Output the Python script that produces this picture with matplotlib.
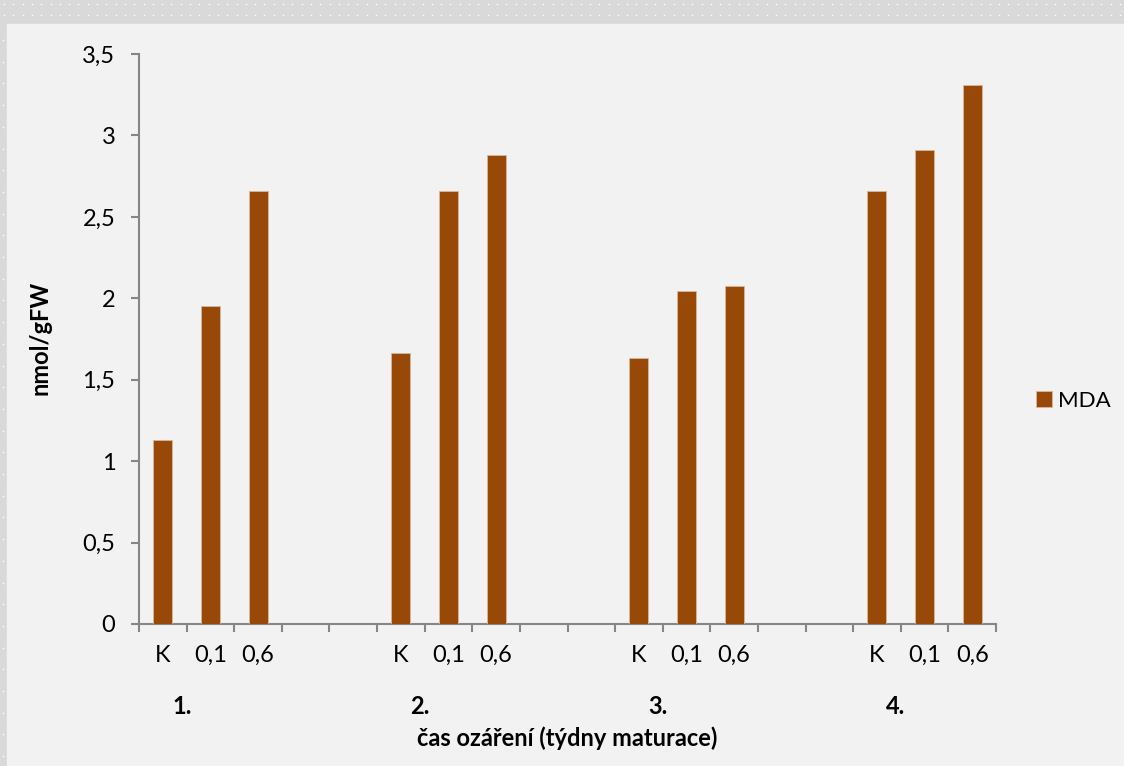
import numpy as np
import matplotlib.pyplot as plt
from matplotlib.ticker import FuncFormatter, FixedLocator

# data
groups = ["1.", "2.", "3.", "4."]
doses = ["K", "0,1", "0,6"]
mda_g1 = [1.13, 1.95, 2.66]
mda_g2 = [1.665, 2.66, 2.88]
mda_g3 = [1.635, 2.045, 2.075]
mda_g4 = [2.66, 2.91, 3.31]
series_name = "MDA"

values = [mda_g1, mda_g2, mda_g3, mda_g4]
gap = 2  # empty category slots between groups
nslots = len(groups) * len(doses) + (len(groups) - 1) * gap
fs = 17

plt.rcParams['font.family'] = ['Lato', 'DejaVu Sans']

fig = plt.figure(figsize=(11.24, 7.66), dpi=100)
fig.patch.set_facecolor('#d9d9d9')

# decorative dotted frame
bg = fig.add_axes([0, 0, 1, 1], zorder=-5)
bg.set_xlim(0, 1124)
bg.set_ylim(766, 0)
bg.axis('off')
dx = np.arange(4, 1124, 9.3)
bg.scatter(dx, np.full_like(dx, 4), s=1.2, c='white', lw=0)
bg.scatter(dx, np.full_like(dx, 15), s=1.2, c='white', lw=0)
dy = np.arange(40, 766, 21.7)
bg.scatter(np.full_like(dy, 3), dy, s=1.2, c='white', lw=0)
bg.add_patch(plt.Rectangle((7, 24), 1124, 766, color='#f2f2f2', zorder=2))

ax = fig.add_axes([139 / 1124, 1 - 624 / 766, (996 - 139) / 1124, (624 - 54) / 766])
ax.patch.set_alpha(0)

pos = []
vals = []
labels = []
group_x = []
for g, vs in enumerate(values):
    start = g * (len(doses) + gap)
    group_x.append(start + 0.9)
    for i, v in enumerate(vs):
        pos.append(start + i + 0.5)
        vals.append(v)
        labels.append(doses[i])

ax.bar(pos, vals, width=0.4, color='#984807', edgecolor='#d8b79a', linewidth=0.6,
       label=series_name, zorder=3)

ax.set_xlim(0, nslots)
ax.set_ylim(0, 3.5)
ax.set_yticks(np.arange(0, 3.51, 0.5))
ax.yaxis.set_major_formatter(FuncFormatter(lambda v, p: ('%g' % v).replace('.', ',')))

ax.xaxis.set_major_locator(FixedLocator(np.arange(0, nslots + 1)))
ax.xaxis.set_major_formatter(FuncFormatter(lambda v, p: ''))
ax.xaxis.set_minor_locator(FixedLocator(pos))
ax.set_xticklabels(labels, minor=True)
ax.tick_params(axis='x', which='major', direction='out', length=6, width=1.5, color='#868686')
ax.tick_params(axis='x', which='minor', length=0, pad=15, labelsize=fs)
ax.tick_params(axis='y', direction='out', length=6, width=1.5, color='#868686',
               labelsize=fs, pad=11)

for s in ['top', 'right']:
    ax.spines[s].set_visible(False)
for s in ['left', 'bottom']:
    ax.spines[s].set_color('#868686')
    ax.spines[s].set_linewidth(1.5)

for gx, gl in zip(group_x, groups):
    ax.text(gx, -(707 - 624) / 570, gl, transform=ax.get_xaxis_transform(),
            ha='center', va='center', fontsize=fs, fontweight='bold')

fig.text(567 / 1124, 1 - 738 / 766, "čas ozáření (týdny maturace)", ha='center', va='center',
         fontsize=fs, fontweight='bold')
fig.text(40 / 1124, 1 - 338 / 766, "nmol/gFW", ha='center', va='center', rotation=90,
         fontsize=fs, fontweight='bold')

ax.legend(loc='center left', bbox_to_anchor=(1016 / 1124, 1 - 401 / 766),
          bbox_transform=fig.transFigure, frameon=False, fontsize=16,
          handlelength=0.7, handleheight=0.7, handletextpad=0.3)

fig.savefig('out.png', dpi=100, facecolor=fig.get_facecolor())
